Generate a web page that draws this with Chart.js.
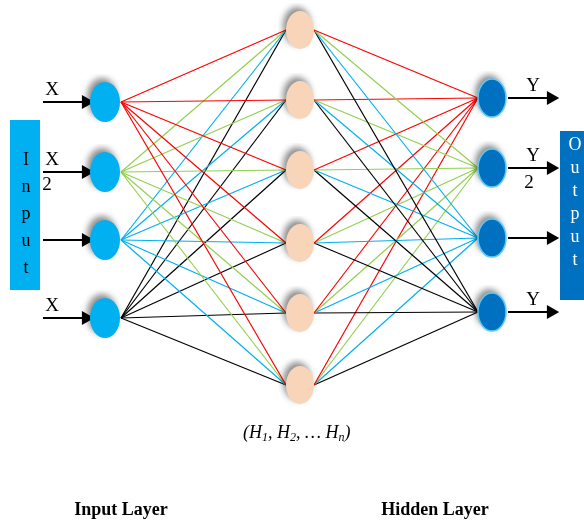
<!DOCTYPE html>
<html><head><meta charset="utf-8">
<script src="https://cdn.jsdelivr.net/npm/chart.js@4"></script>
<style>html,body{margin:0;padding:0;background:#fff;overflow:hidden}#w{width:584px;height:524px}</style>
</head><body><div id="w"><canvas id="c"></canvas></div>
<script>
const layerX = [105, 300, 492];
const inputY = [102, 172, 240, 318];
const hiddenY = [30, 100, 170, 243, 313, 385];
const outputY = [98, 168, 238, 312];
const edgeColors = ['#ff0000', '#92d050', '#00b0f0', '#000000'];
const inputLabels = [['X',''], ['X','2'], ['',''], ['X','']];
const outputLabels = [['Y',''], ['Y','2'], ['',''], ['Y','']];
const halfW = [16, 14, 14];

function nodeImg(w, h, fill, stroke) {
  const c = document.createElement('canvas');
  c.width = w + 16; c.height = h + 16;
  const g = c.getContext('2d');
  g.shadowColor = 'rgba(0,0,0,0.45)'; g.shadowBlur = 6; g.shadowOffsetX = -3; g.shadowOffsetY = -4;
  g.beginPath(); g.ellipse(c.width/2, c.height/2, w/2, h/2, 0, 0, Math.PI*2);
  g.fillStyle = fill; g.fill();
  g.shadowColor = 'transparent';
  if (stroke) { g.lineWidth = 1.5; g.strokeStyle = stroke; g.stroke(); }
  return c;
}
const inImg = nodeImg(30, 40, '#00b0f0');
const hidImg = nodeImg(28, 38, '#f8d5b8');
const outImg = nodeImg(28, 38, '#0070c0', '#5fc8f5');

const datasets = [];
inputY.forEach((iy, i) => hiddenY.forEach(hy => datasets.push({
  data: [{x: layerX[0] + halfW[0], y: iy}, {x: layerX[1] - halfW[1], y: hy}], showLine: true, order: 5,
  borderColor: edgeColors[i], borderWidth: 1.2, pointRadius: 0})));
hiddenY.forEach(hy => outputY.forEach((oy, k) => datasets.push({
  data: [{x: layerX[1] + halfW[1], y: hy}, {x: layerX[2] - halfW[2], y: oy}], showLine: true, order: 5,
  borderColor: edgeColors[k], borderWidth: 1.2, pointRadius: 0})));
inputY.forEach(y => datasets.push({data: [{x: 43, y}, {x: 86, y}], showLine: true, borderColor: '#000', borderWidth: 2.2, order: 1,
  pointRadius: [0, 6], pointStyle: 'triangle', rotation: 90, pointBackgroundColor: '#000', pointBorderColor: '#000'}));
outputY.forEach(y => datasets.push({data: [{x: 508, y}, {x: 551, y}], showLine: true, borderColor: '#000', borderWidth: 2.2, order: 1,
  pointRadius: [0, 6], pointStyle: 'triangle', rotation: 90, pointBackgroundColor: '#000', pointBorderColor: '#000'}));
datasets.push({data: inputY.map(y => ({x: layerX[0], y})), pointStyle: inImg, pointRadius: 20, order: 0});
datasets.push({data: hiddenY.map(y => ({x: layerX[1], y})), pointStyle: hidImg, pointRadius: 20, order: 0});
datasets.push({data: outputY.map(y => ({x: layerX[2], y})), pointStyle: outImg, pointRadius: 20, order: 0});

const deco = {
  id: 'deco',
  beforeDatasetsDraw(ch) {
    const g = ch.ctx, X = v => ch.scales.x.getPixelForValue(v), Y = v => ch.scales.y.getPixelForValue(v);
    g.save();
    g.fillStyle = '#00b0f0'; g.fillRect(X(10), Y(120), X(40)-X(10), Y(290)-Y(120));
    g.fillStyle = '#0070c0'; g.fillRect(X(560), Y(131), X(584)-X(560), Y(300)-Y(131));
    g.font = '18px "Liberation Serif"'; g.textAlign = 'center'; g.textBaseline = 'middle';
    g.fillStyle = '#000';
    'Input'.split('').forEach((ch2, i) => g.fillText(ch2, X(26), Y(160 + i*27)));
    g.fillStyle = '#fff';
    'Output'.split('').forEach((ch2, i) => g.fillText(ch2, X(575), Y(145 + i*23)));
    g.restore();
  },
  afterDatasetsDraw(ch) {
    const g = ch.ctx, X = v => ch.scales.x.getPixelForValue(v), Y = v => ch.scales.y.getPixelForValue(v);
    g.save(); g.fillStyle = '#000'; g.textAlign = 'center'; g.textBaseline = 'middle';
    g.font = '19px "Liberation Serif"';
    inputLabels.forEach((l, i) => { g.fillText(l[0], X(52), Y(inputY[i]-12)); g.fillText(l[1], X(47), Y(inputY[i]+13)); });
    outputLabels.forEach((l, i) => { g.fillText(l[0], X(533), Y(outputY[i]-12)); g.fillText(l[1], X(529), Y(outputY[i]+15)); });
    g.textAlign = 'left';
    let x = X(243); const y = Y(433);
    const parts = [['(H',0],['1',1],[', H',0],['2',1],[', … H',0],['n',1],[')',0]];
    parts.forEach(p => {
      if (p[1]) { g.font = 'italic 12px "Liberation Serif"'; g.fillText(p[0], x, y+5); }
      else { g.font = 'italic 18px "Liberation Serif"'; g.fillText(p[0], x, y); }
      x += g.measureText(p[0]).width;
    });
    g.textAlign = 'center';
    g.font = 'bold 18px "Liberation Serif"';
    g.fillText('Input Layer', X(121), Y(510));
    g.fillText('Hidden Layer', X(435), Y(510));
    g.restore();
  }
};

new Chart(document.getElementById('c'), {
  type: 'scatter',
  data: {datasets},
  options: {
    animation: false, responsive: true, maintainAspectRatio: false,
    layout: {padding: 0, autoPadding: false},
    plugins: {legend: {display: false}, tooltip: {enabled: false}},
    scales: {
      x: {type: 'linear', min: 0, max: 584, display: false},
      y: {type: 'linear', min: 0, max: 524, reverse: true, display: false}
    }
  },
  plugins: [deco]
});
</script></body></html>
